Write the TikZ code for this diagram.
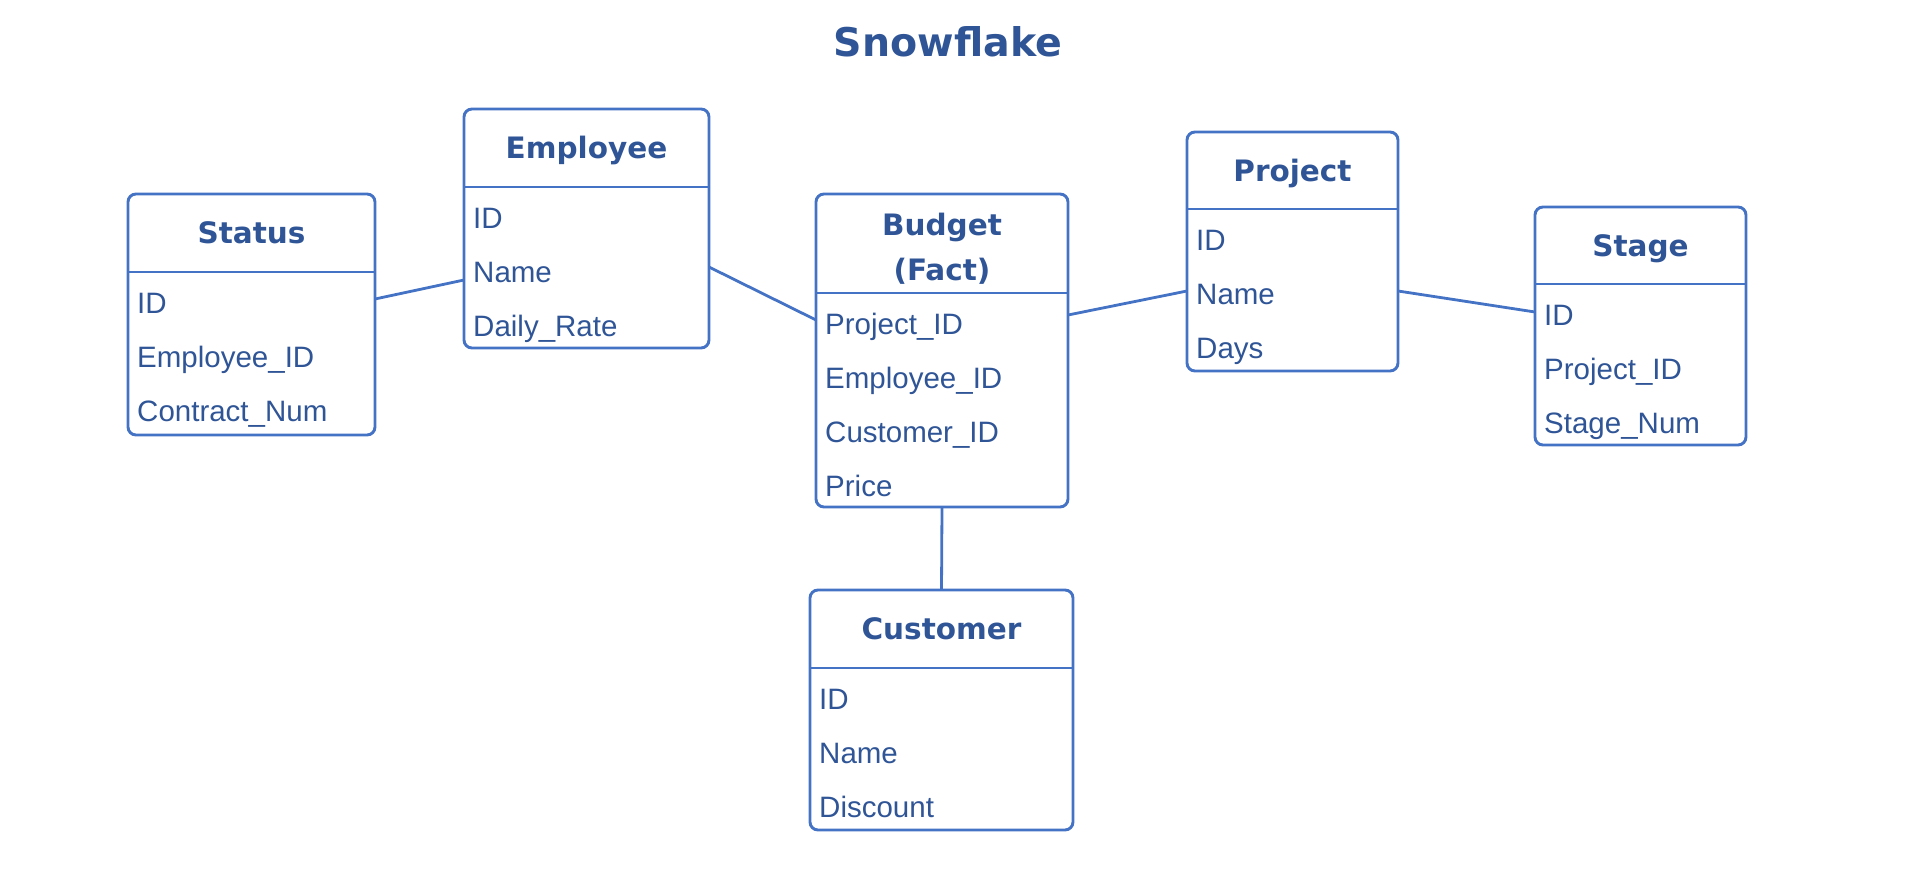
\documentclass[tikz,border=0pt]{standalone}
\usepackage{fontspec}
\setmainfont{Liberation Sans}
\newfontfamily\hdrfont{DejaVu Sans}
\definecolor{lineblue}{HTML}{4472C4}
\definecolor{textblue}{HTML}{2F5597}
\tikzset{
  tbl/.style={draw=lineblue, line width=2.9pt, rounded corners=8pt, rectangle, inner sep=0pt, outer sep=0pt},
  sepline/.style={draw=lineblue, line width=2.9pt},
  link/.style={draw=lineblue, line width=2.8pt},
  hdr/.style={text=textblue, font=\hdrfont\bfseries\fontsize{29.5}{36}\selectfont, inner sep=0pt, anchor=base},
  rowtxt/.style={text=textblue, font=\fontsize{29.5}{36}\selectfont, inner sep=0pt, anchor=base west},
  ttl/.style={text=textblue, font=\hdrfont\bfseries\fontsize{39.5}{46}\selectfont, inner sep=0pt, anchor=base}
}
% #1 name, #2 left, #3 top, #4 right, #5 header line y, #6 bottom, #7 rows
\newcommand\erbox[7]{%
  \node[tbl, minimum width={(#4)-(#2)}, minimum height={(#6)-(#3)}, anchor=north west] (#1) at (#2,#3) {};
  \draw[sepline] (#1.west |- 0,#5) -- (#1.east |- 0,#5);
  \foreach \t [count=\i] in {#7} {
    \node[rowtxt] (#1-r\i) at ({#2+9}, {#5+41+54*(\i-1)}) {\t};
  }
}
\begin{document}
\begin{tikzpicture}[x=1pt, y=-1pt]
\useasboundingbox (0,0) rectangle (1917,883);

\node[ttl] (title) at (948,57) {Snowflake};

\erbox{status}{128}{194}{375}{272}{435}{ID,Employee\_ID,Contract\_Num}
\node[hdr] (status-t) at ({(128+375)/2},{(194+272)/2+10.75}) {Status};

\erbox{employee}{464}{109}{709}{187}{348}{ID,Name,Daily\_Rate}
\node[hdr] (employee-t) at ({(464+709)/2},{(109+187)/2+10.75}) {Employee};

\erbox{budget}{816}{194}{1068}{293}{507}{Project\_ID,Employee\_ID,Customer\_ID,Price}
\node[hdr] (budget-t1) at ({(816+1068)/2},235) {Budget};
\node[hdr] (budget-t2) at ({(816+1068)/2},280) {(Fact)};

\erbox{project}{1187}{132}{1398}{209}{371}{ID,Name,Days}
\node[hdr] (project-t) at ({(1187+1398)/2},{(132+209)/2+10.75}) {Project};

\erbox{stage}{1535}{207}{1746}{284}{445}{ID,Project\_ID,Stage\_Num}
\node[hdr] (stage-t) at ({(1535+1746)/2},{(207+284)/2+10.75}) {Stage};

\erbox{customer}{810}{590}{1073}{668}{830}{ID,Name,Discount}
\node[hdr] (customer-t) at ({(810+1073)/2},{(590+668)/2+10.75}) {Customer};

\draw[link] ([yshift=15.5pt]status.east) -- ([yshift=-51.5pt]employee.west);
\draw[link] ([yshift=-38.5pt]employee.east) -- ([yshift=30.5pt]budget.west);
\draw[link] ([yshift=35.5pt]budget.east) -- ([yshift=-39.5pt]project.west);
\draw[link] ([yshift=-39.5pt]project.east) -- ([yshift=14pt]stage.west);
\draw[link] (budget.south) -- (customer.north);
\end{tikzpicture}
\end{document}
